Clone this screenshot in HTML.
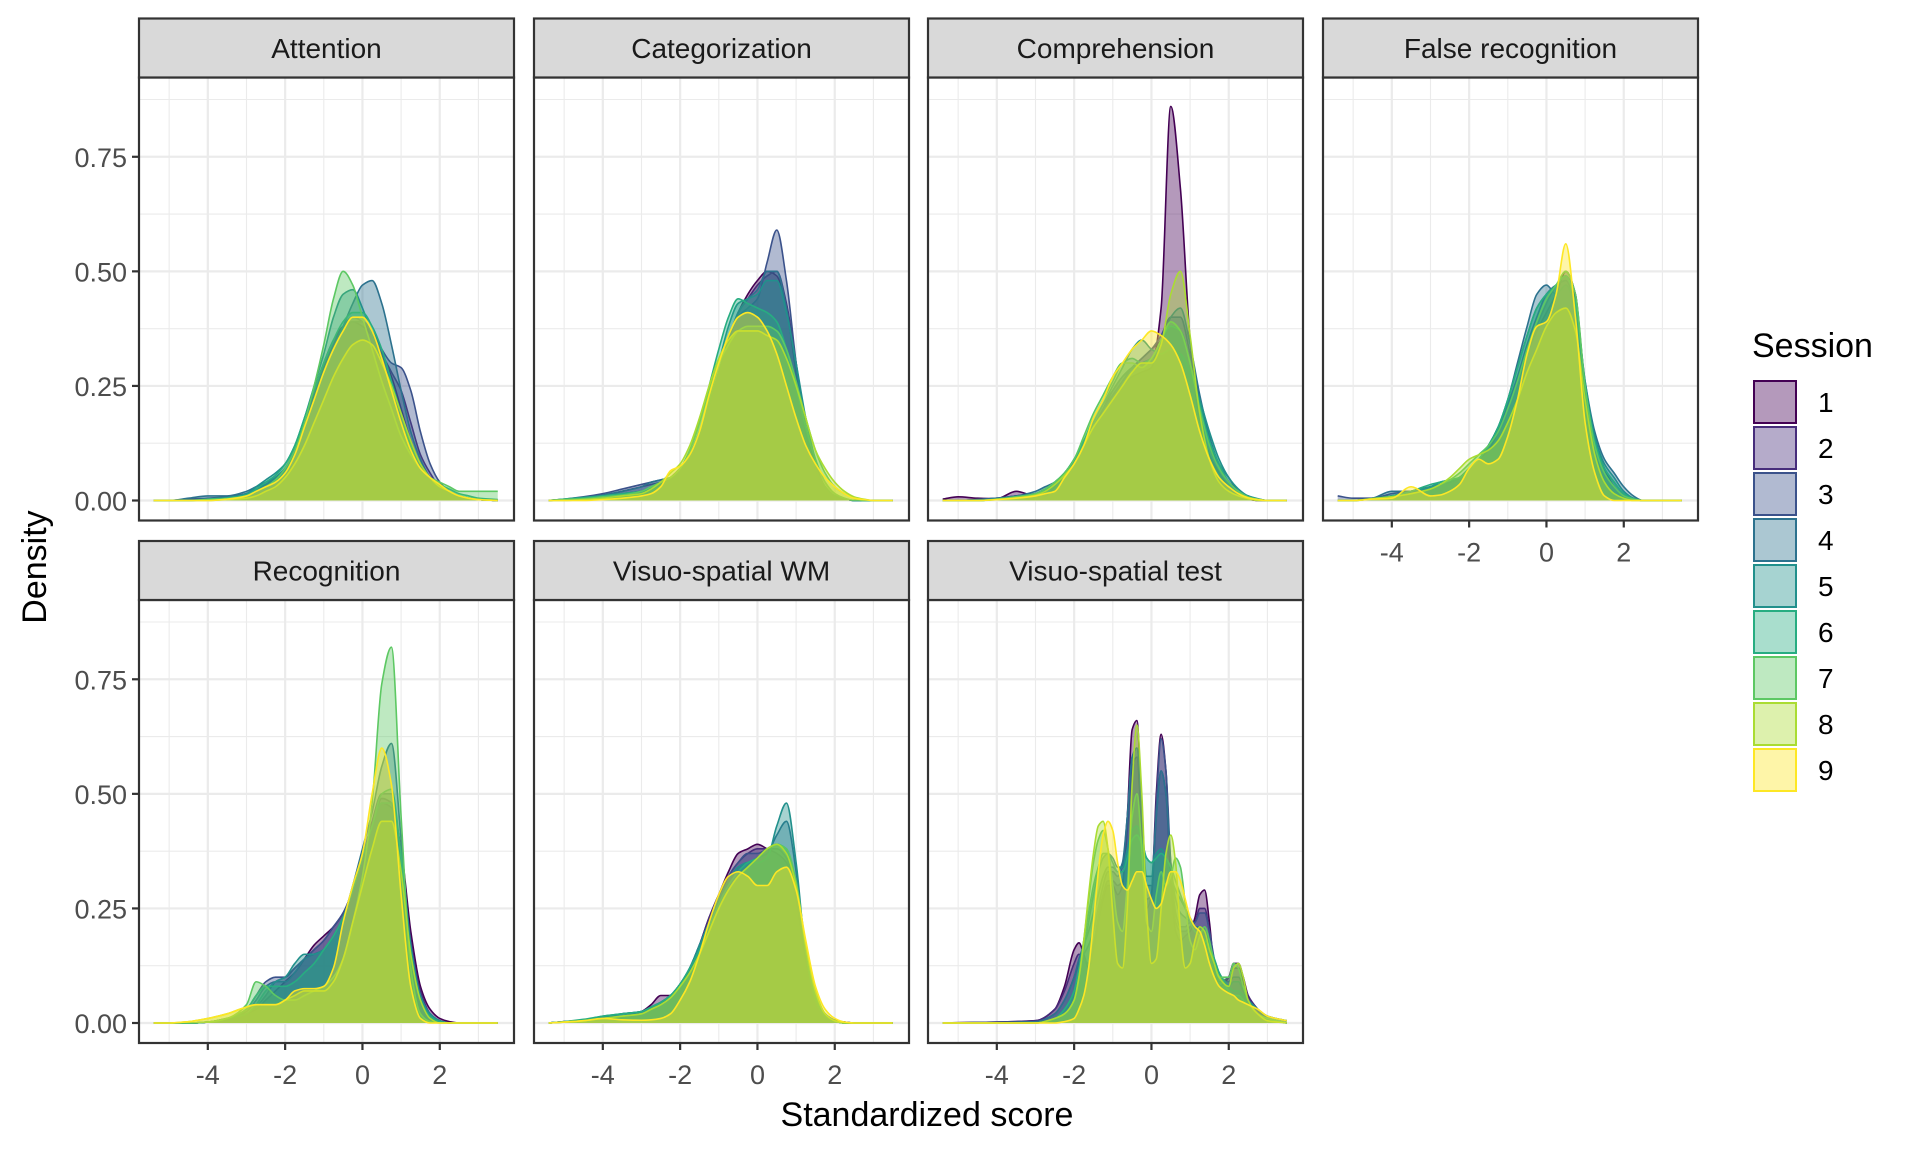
<!DOCTYPE html>
<html><head><meta charset="utf-8"><style>
html,body{margin:0;padding:0;background:#fff;}
svg{display:block;font-family:"Liberation Sans",Arial,sans-serif;}
</style></head>
<body>
<svg id="chart" width="1920" height="1152" viewBox="0 0 1920 1152" xmlns="http://www.w3.org/2000/svg">
<rect x="0" y="0" width="1920" height="1152" fill="#fff"/>
<g id="panels"></g>
<text x="927" y="1126" font-size="34" text-anchor="middle" fill="#000">Standardized score</text>
<text transform="translate(46,567) rotate(-90)" font-size="34" text-anchor="middle" fill="#000">Density</text>
<g id="legend">
<text x="1752" y="357" font-size="34" fill="#000">Session</text>
</g>
</svg>
<script>
const sessions = ["1","2","3","4","5","6","7","8","9"];
const colors = ["#440154","#472D7B","#3B528B","#2C728E","#21908C","#27AD81","#5DC863","#AADC32","#FDE725"];
const panelTitles = ["Attention","Categorization","Comprehension","False recognition","Recognition","Visuo-spatial WM","Visuo-spatial test"];
const xTicks = [-4,-2,0,2];
const xTickLabels = ["-4","-2","0","2"];
const yTicks = [0,0.25,0.5,0.75];
const yTickLabels = ["0.00","0.25","0.50","0.75"];
const xGrid = [-5.4,-5,-4.5,-4,-3.5,-3,-2.75,-2.5,-2.25,-2,-1.75,-1.5,-1.25,-1,-0.75,-0.5,-0.25,0,0.25,0.5,0.75,1,1.25,1.5,1.75,2,2.25,2.5,2.75,3,3.5];
const xGridVST = [-5.4,-3,-2.5,-2.25,-2,-1.875,-1.75,-1.625,-1.5,-1.375,-1.25,-1.125,-1,-0.875,-0.75,-0.625,-0.5,-0.375,-0.25,-0.125,0,0.125,0.25,0.375,0.5,0.625,0.75,0.875,1,1.125,1.25,1.375,1.5,1.625,1.75,2,2.125,2.25,2.375,2.5,2.75,3,3.5];

const attention = [
[0,0,.002,.004,.006,.01,.02,.03,.045,.07,.11,.17,.24,.30,.35,.38,.39,.38,.36,.32,.27,.20,.13,.08,.05,.03,.02,.01,.005,.002,0],
[0,0,.002,.004,.008,.015,.025,.035,.05,.07,.11,.17,.23,.29,.34,.38,.40,.39,.36,.32,.28,.24,.17,.10,.06,.03,.02,.01,.005,.002,0],
[0,0,.003,.005,.008,.015,.025,.035,.05,.07,.11,.16,.22,.28,.33,.37,.39,.39,.37,.33,.30,.29,.24,.15,.08,.04,.02,.01,.005,.002,0],
[0,0,.005,.01,.01,.02,.03,.04,.05,.07,.11,.16,.22,.28,.33,.38,.43,.47,.48,.43,.34,.24,.15,.09,.05,.03,.02,.01,.005,.002,0],
[0,0,0,.003,.006,.015,.03,.045,.06,.08,.12,.18,.25,.32,.40,.45,.46,.42,.36,.30,.23,.16,.10,.07,.05,.03,.02,.01,.005,.002,0],
[0,0,0,.003,.006,.012,.025,.04,.055,.08,.12,.18,.24,.30,.35,.39,.41,.41,.38,.33,.26,.19,.12,.08,.05,.035,.025,.015,.01,.005,.002],
[0,0,0,.002,.004,.01,.02,.03,.045,.07,.11,.17,.25,.34,.44,.50,.47,.40,.33,.26,.20,.14,.10,.07,.05,.04,.03,.02,.02,.02,.02],
[0,0,0,0,.002,.005,.01,.02,.03,.05,.08,.12,.17,.22,.27,.31,.34,.35,.34,.30,.25,.19,.13,.08,.05,.03,.02,.01,.005,.002,0],
[0,0,0,0,.003,.01,.02,.03,.04,.06,.10,.16,.22,.28,.33,.37,.40,.40,.37,.31,.24,.17,.11,.07,.05,.035,.02,.01,.005,.002,0]
];
const categorization = [
[0,.002,.005,.01,.015,.02,.025,.035,.05,.07,.10,.15,.21,.28,.35,.41,.45,.48,.50,.49,.42,.28,.15,.07,.03,.01,.004,0,0,0,0],
[0,.002,.005,.01,.02,.03,.035,.04,.05,.07,.10,.15,.21,.28,.35,.41,.44,.47,.49,.50,.43,.30,.16,.08,.03,.01,.004,0,0,0,0],
[0,.003,.008,.015,.025,.035,.04,.045,.05,.07,.10,.15,.21,.28,.35,.40,.42,.44,.52,.59,.48,.30,.15,.07,.03,.01,.004,0,0,0,0],
[0,.002,.006,.012,.02,.03,.04,.045,.05,.07,.10,.15,.21,.28,.35,.41,.44,.46,.50,.50,.42,.29,.15,.07,.03,.01,.004,0,0,0,0],
[0,.003,.007,.01,.015,.02,.03,.04,.05,.07,.10,.15,.22,.30,.38,.43,.44,.45,.48,.48,.41,.30,.18,.09,.04,.015,.005,0,0,0,0],
[0,.003,.006,.01,.015,.02,.03,.04,.05,.07,.11,.17,.25,.33,.40,.44,.43,.42,.41,.39,.33,.25,.16,.09,.04,.015,.005,0,0,0,0],
[0,.002,.004,.008,.012,.02,.03,.04,.05,.07,.11,.17,.24,.30,.34,.37,.38,.38,.38,.37,.33,.26,.18,.11,.06,.03,.015,.005,0,0,0],
[0,0,.002,.005,.01,.015,.025,.04,.06,.08,.12,.18,.25,.31,.35,.37,.37,.37,.36,.35,.31,.25,.18,.11,.07,.04,.02,.008,.003,0,0],
[0,0,0,.002,.005,.01,.015,.03,.065,.075,.10,.15,.23,.30,.36,.40,.41,.40,.37,.32,.25,.18,.12,.08,.05,.03,.015,.005,.002,0,0]
];
const comprehension = [
[.003,.008,.005,.004,.02,.01,.01,.03,.05,.08,.12,.16,.19,.22,.25,.27,.28,.29,.42,.86,.68,.35,.17,.10,.06,.03,.01,.003,0,0,0],
[0,0,.002,.005,.01,.015,.02,.03,.05,.08,.12,.16,.20,.24,.27,.29,.31,.33,.35,.38,.37,.30,.20,.12,.07,.04,.02,.008,.003,0,0],
[0,0,.002,.005,.01,.015,.025,.035,.055,.085,.12,.16,.20,.23,.26,.29,.31,.33,.36,.40,.40,.32,.22,.13,.07,.04,.02,.008,.003,0,0],
[0,0,.002,.005,.01,.02,.03,.04,.06,.09,.13,.17,.21,.24,.27,.29,.30,.31,.34,.40,.42,.34,.23,.14,.08,.05,.02,.01,.003,0,0],
[0,0,0,.003,.008,.015,.025,.04,.06,.09,.13,.17,.21,.25,.29,.33,.35,.33,.32,.33,.32,.28,.22,.15,.09,.05,.025,.01,.004,0,0],
[0,0,0,.003,.008,.015,.025,.04,.06,.09,.13,.18,.22,.26,.30,.31,.30,.31,.35,.38,.37,.30,.21,.13,.08,.04,.02,.008,.003,0,0],
[0,0,0,.003,.008,.015,.025,.04,.06,.09,.14,.19,.23,.27,.30,.30,.29,.31,.35,.39,.37,.30,.20,.12,.07,.04,.02,.008,.003,0,0],
[0,0,0,.002,.006,.012,.02,.035,.055,.08,.12,.16,.19,.22,.25,.28,.30,.30,.34,.45,.50,.36,.19,.09,.04,.02,.01,.004,0,0,0],
[0,0,0,.002,.005,.01,.015,.02,.05,.08,.12,.18,.22,.27,.30,.33,.35,.37,.36,.34,.30,.23,.15,.09,.05,.03,.015,.006,.002,0,0]
];
const falseRecognition = [
[0,0,.005,.01,.02,.03,.035,.04,.05,.07,.09,.11,.15,.20,.26,.32,.37,.41,.45,.50,.45,.24,.13,.07,.03,.01,.003,0,0,0,0],
[0,0,.005,.01,.02,.03,.035,.04,.05,.07,.09,.12,.15,.20,.26,.32,.38,.43,.47,.49,.44,.25,.12,.06,.03,.01,.003,0,0,0,0],
[.01,.005,.005,.015,.02,.03,.035,.04,.05,.07,.09,.12,.16,.21,.27,.34,.40,.45,.47,.48,.42,.25,.13,.07,.04,.015,.005,0,0,0,0],
[0,0,.005,.02,.02,.03,.035,.04,.05,.07,.09,.12,.16,.22,.30,.38,.45,.47,.45,.47,.42,.26,.15,.09,.06,.03,.01,0,0,0,0],
[0,0,.004,.01,.02,.03,.04,.045,.05,.07,.09,.12,.16,.22,.29,.36,.42,.45,.47,.49,.43,.26,.14,.08,.05,.02,.005,0,0,0,0],
[0,0,.004,.01,.02,.035,.04,.045,.05,.07,.09,.12,.16,.22,.29,.36,.42,.45,.47,.49,.43,.25,.13,.07,.04,.015,.004,0,0,0,0],
[0,0,.004,.008,.015,.025,.035,.045,.06,.08,.10,.12,.15,.20,.26,.33,.39,.44,.47,.50,.45,.25,.12,.06,.03,.01,.003,0,0,0,0],
[0,0,.004,.008,.015,.025,.035,.05,.07,.09,.10,.11,.13,.17,.22,.28,.33,.38,.41,.42,.37,.22,.10,.04,.015,.005,0,0,0,0,0],
[0,0,.003,.005,.03,.01,.012,.02,.035,.07,.09,.08,.09,.14,.22,.32,.38,.39,.45,.56,.40,.17,.06,.01,0,0,0,0,0,0,0]
];
const recognition = [
[0,0,0,.002,.01,.02,.03,.05,.07,.09,.11,.14,.17,.19,.21,.24,.29,.36,.43,.48,.47,.38,.20,.08,.03,.01,.003,0,0,0,0],
[0,0,0,.002,.01,.02,.035,.06,.09,.10,.12,.14,.16,.18,.21,.24,.29,.36,.43,.49,.48,.36,.18,.07,.02,.005,0,0,0,0,0],
[0,0,0,.002,.01,.03,.06,.09,.10,.10,.12,.14,.16,.18,.21,.24,.29,.36,.44,.50,.50,.36,.17,.06,.02,.005,0,0,0,0,0],
[0,0,0,.002,.01,.025,.05,.08,.09,.09,.11,.14,.15,.16,.19,.23,.30,.38,.46,.56,.61,.40,.16,.05,.015,.003,0,0,0,0,0],
[0,0,0,.002,.01,.02,.04,.07,.09,.10,.13,.15,.15,.16,.19,.23,.29,.36,.43,.48,.48,.37,.17,.06,.02,.005,0,0,0,0,0],
[0,0,0,.002,.01,.03,.06,.08,.08,.08,.09,.11,.13,.16,.19,.23,.29,.36,.43,.50,.51,.36,.15,.05,.015,.003,0,0,0,0,0],
[0,0,0,.002,.01,.04,.09,.08,.06,.05,.05,.06,.07,.08,.10,.14,.22,.32,.48,.74,.82,.45,.12,.02,.003,0,0,0,0,0,0],
[0,0,.003,.01,.02,.035,.04,.04,.04,.05,.06,.07,.07,.07,.09,.14,.22,.30,.38,.44,.44,.33,.15,.05,.01,0,0,0,0,0,0],
[0,0,.003,.01,.02,.035,.04,.04,.04,.05,.07,.075,.075,.08,.12,.22,.30,.37,.50,.60,.52,.28,.08,.01,0,0,0,0,0,0,0]
];
const visuoSpatialWM = [
[0,.003,.005,.01,.015,.025,.04,.06,.06,.08,.12,.17,.23,.28,.33,.37,.38,.39,.38,.37,.35,.27,.14,.05,.02,.006,.002,0,0,0,0],
[0,.003,.006,.01,.015,.025,.035,.045,.06,.085,.12,.17,.23,.28,.32,.35,.37,.38,.38,.38,.36,.28,.15,.06,.02,.006,.002,0,0,0,0],
[0,.003,.006,.012,.02,.025,.035,.045,.06,.085,.12,.17,.22,.27,.32,.35,.37,.37,.38,.39,.37,.28,.15,.06,.02,.006,.002,0,0,0,0],
[0,.003,.006,.012,.02,.025,.035,.045,.06,.085,.12,.17,.22,.27,.31,.34,.35,.36,.37,.41,.44,.33,.15,.05,.015,.004,0,0,0,0,0],
[0,.003,.006,.015,.02,.025,.035,.045,.06,.085,.12,.17,.22,.27,.31,.34,.35,.35,.36,.43,.48,.35,.15,.05,.015,.004,0,0,0,0,0],
[0,.003,.008,.015,.02,.025,.035,.045,.06,.085,.12,.16,.21,.26,.30,.33,.35,.36,.38,.39,.38,.30,.16,.06,.02,.005,0,0,0,0,0],
[0,.002,.005,.01,.015,.02,.03,.04,.055,.08,.11,.15,.20,.25,.29,.32,.34,.36,.38,.39,.38,.31,.17,.07,.02,.005,0,0,0,0,0],
[0,.002,.005,.01,.015,.02,.03,.04,.055,.08,.11,.15,.20,.25,.29,.32,.34,.36,.38,.39,.37,.30,.17,.07,.02,.005,0,0,0,0,0],
[0,.002,.005,.01,.007,.006,.007,.01,.02,.05,.09,.15,.22,.28,.32,.33,.32,.30,.30,.33,.34,.29,.18,.08,.03,.01,.002,0,0,0,0]
];
const visuoSpatialTest = [
[0,.005,.03,.08,.16,.175,.15,.12,.16,.22,.27,.30,.30,.28,.30,.45,.64,.66,.45,.25,.28,.50,.63,.55,.32,.20,.18,.19,.20,.23,.28,.29,.22,.12,.08,.10,.13,.13,.10,.06,.03,.01,0],
[0,.005,.03,.07,.13,.15,.14,.13,.17,.23,.28,.31,.31,.30,.31,.42,.56,.58,.42,.27,.28,.45,.55,.50,.32,.22,.20,.20,.21,.22,.25,.25,.20,.13,.09,.10,.12,.12,.09,.06,.03,.01,0],
[0,.003,.02,.05,.10,.13,.15,.17,.20,.25,.30,.33,.33,.32,.34,.45,.58,.60,.45,.30,.30,.48,.62,.55,.35,.24,.21,.21,.22,.22,.24,.24,.20,.14,.10,.09,.10,.10,.08,.05,.03,.01,0],
[0,.003,.02,.05,.10,.14,.17,.20,.24,.28,.32,.34,.34,.33,.35,.45,.58,.60,.46,.32,.32,.45,.55,.50,.35,.27,.24,.23,.22,.21,.21,.20,.17,.13,.10,.08,.09,.09,.07,.05,.03,.015,.005],
[0,0,.01,.03,.07,.11,.16,.22,.28,.33,.36,.37,.36,.34,.34,.38,.42,.43,.40,.36,.35,.37,.38,.36,.32,.29,.27,.25,.23,.21,.19,.18,.16,.14,.11,.08,.07,.07,.06,.05,.03,.015,.005],
[0,0,.01,.03,.07,.12,.18,.24,.30,.34,.37,.37,.35,.33,.33,.36,.40,.41,.39,.36,.35,.36,.37,.36,.34,.31,.28,.25,.22,.20,.19,.18,.17,.14,.11,.07,.06,.06,.05,.04,.02,.01,0],
[0,0,.01,.02,.05,.10,.18,.27,.35,.40,.42,.38,.30,.22,.20,.30,.45,.50,.38,.22,.20,.28,.33,.30,.32,.36,.34,.26,.18,.16,.19,.21,.18,.13,.10,.10,.13,.12,.08,.05,.02,.01,0],
[0,0,.01,.02,.05,.10,.18,.28,.37,.43,.44,.38,.24,.13,.12,.25,.52,.65,.50,.25,.13,.14,.25,.37,.41,.35,.20,.12,.13,.18,.21,.20,.16,.13,.10,.08,.12,.13,.10,.05,.02,.005,0],
[0,0,0,.003,.01,.03,.06,.12,.22,.33,.41,.44,.42,.35,.30,.29,.31,.33,.33,.30,.27,.25,.26,.30,.33,.33,.31,.27,.23,.21,.20,.17,.13,.10,.08,.065,.06,.05,.045,.04,.03,.015,.005]
];

const NS = "http://www.w3.org/2000/svg";
function mk(tag, attrs, parent) {
  const e = document.createElementNS(NS, tag);
  for (const k in attrs) e.setAttribute(k, attrs[k]);
  if (parent) parent.appendChild(e);
  return e;
}
const panelData = [attention, categorization, comprehension, falseRecognition, recognition, visuoSpatialWM, visuoSpatialTest];
const panelX = [xGrid, xGrid, xGrid, xGrid, xGrid, xGrid, xGridVST];
const panelLefts = [139, 534, 928, 1323];
const rowTops = [18.5, 541];
const PW = 375, STRIP = 59, PLOT_H = 443;
const XMIN = -5.78, XMAX = 3.92, YMAX = 0.923;

function monotonePath(px, py) {
  const n = px.length;
  const d = [], m = [];
  for (let i = 0; i < n - 1; i++) d.push((py[i+1]-py[i])/(px[i+1]-px[i]));
  m[0] = d[0]; m[n-1] = d[n-2];
  for (let i = 1; i < n - 1; i++) {
    if (d[i-1]*d[i] <= 0) { m[i] = 0; continue; }
    const w1 = 2*(px[i+1]-px[i]) + (px[i]-px[i-1]);
    const w2 = (px[i+1]-px[i]) + 2*(px[i]-px[i-1]);
    m[i] = (w1+w2) / (w1/d[i-1] + w2/d[i]);
  }
  let s = "M" + px[0].toFixed(2) + "," + py[0].toFixed(2);
  for (let i = 0; i < n - 1; i++) {
    const h = px[i+1]-px[i];
    s += " C" + (px[i]+h/3).toFixed(2) + "," + (py[i]+m[i]*h/3).toFixed(2) + " " +
         (px[i+1]-h/3).toFixed(2) + "," + (py[i+1]-m[i+1]*h/3).toFixed(2) + " " +
         px[i+1].toFixed(2) + "," + py[i+1].toFixed(2);
  }
  return s;
}

const root = document.getElementById("panels");
panelTitles.forEach((title, p) => {
  const col = p < 4 ? p : p - 4;
  const row = p < 4 ? 0 : 1;
  const L = panelLefts[col], T = rowTops[row];
  const top = T + STRIP, bot = top + PLOT_H;
  const sx = v => L + (v - XMIN) / (XMAX - XMIN) * PW;
  const sy = v => bot - 20 - v * ((PLOT_H - 20) / YMAX);
  const g = mk("g", {}, root);
  
  
  const bg = mk("rect", {x:L, y:top, width:PW, height:PLOT_H, fill:"#fff"}, g);
  
  
  [-5,-3,-1,1,3].forEach(v => {
    const l = mk("line", {x1:sx(v), x2:sx(v), y1:top, y2:bot, stroke:"#EBEBEB", "stroke-width":1.1}, g);
    
    
  });
  [0.125,0.375,0.625,0.875].forEach(v => {
    const l = mk("line", {x1:L, x2:L+PW, y1:sy(v), y2:sy(v), stroke:"#EBEBEB", "stroke-width":1.1}, g);
    
    
  });
  xTicks.forEach(v => {
    const l = mk("line", {x1:sx(v), x2:sx(v), y1:top, y2:bot, stroke:"#EBEBEB", "stroke-width":2.2}, g);
    
    
  });
  yTicks.forEach(v => {
    const l = mk("line", {x1:L, x2:L+PW, y1:sy(v), y2:sy(v), stroke:"#EBEBEB", "stroke-width":2.2}, g);
    
    
  });
  const xs = panelX[p];
  panelData[p].forEach((series, s) => {
    const px = xs.map(sx), py = series.map(sy);
    const line = monotonePath(px, py);
    const area = mk("path", {d: line + " L" + px[px.length-1].toFixed(2) + "," + sy(0).toFixed(2) + " L" + px[0].toFixed(2) + "," + sy(0).toFixed(2) + " Z",
      fill: colors[s], "fill-opacity": 0.4, stroke: "none"}, g);
    
    
    const ln = mk("path", {d: line, fill: "none", stroke: colors[s], "stroke-width": 1.6}, g);
    
    
  });
  const border = mk("rect", {x:L, y:top, width:PW, height:PLOT_H, fill:"none", stroke:"#333", "stroke-width":2.2}, g);
  
  
  const strip = mk("rect", {x:L, y:T, width:PW, height:STRIP, fill:"#D9D9D9", stroke:"#333", "stroke-width":2.2}, g);
  
  
  const st = mk("text", {x:L+PW/2, y:T+STRIP/2+10, "font-size":28, "text-anchor":"middle", fill:"#1A1A1A"}, g);
  st.textContent = title;
  
  
  if (col === 0) {
    yTicks.forEach((v, i) => {
      const tk = mk("line", {x1:L-7, x2:L, y1:sy(v), y2:sy(v), stroke:"#333", "stroke-width":2.2}, g);
      
      
      const tl = mk("text", {x:L-12, y:sy(v)+10, "font-size":27, "text-anchor":"end", fill:"#4D4D4D"}, g);
      tl.textContent = yTickLabels[i];
      
      
    });
  }
  if (row === 1 || col === 3) {
    xTicks.forEach((v, i) => {
      const tk = mk("line", {x1:sx(v), x2:sx(v), y1:bot, y2:bot+7, stroke:"#333", "stroke-width":2.2}, g);
      
      
      const tl = mk("text", {x:sx(v), y:bot+41, "font-size":27, "text-anchor":"middle", fill:"#4D4D4D"}, g);
      tl.textContent = xTickLabels[i];
      
      
    });
  }
});

const leg = document.getElementById("legend");
sessions.forEach((s, i) => {
  const y = 381 + i * 46;
  const k = mk("rect", {x:1754, y:y, width:42, height:42, fill:colors[i], "fill-opacity":0.4, stroke:colors[i], "stroke-width":2}, leg);
  
  
  const t = mk("text", {x:1818, y:y+31, "font-size":28, fill:"#000"}, leg);
  t.textContent = s;
  
  
});
</script>
</body></html>
